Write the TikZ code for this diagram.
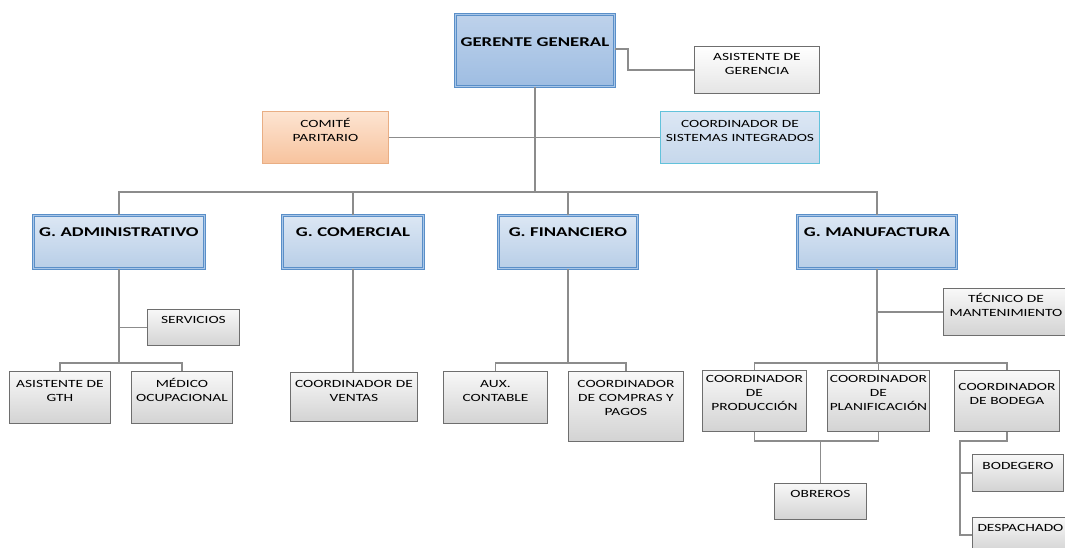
\documentclass[tikz,border=0pt]{standalone}
\usepackage{fontspec}
\setmainfont{Carlito}[FakeStretch=1.4]
\usepackage{xcolor}

\definecolor{lineagris}{HTML}{8C8C8C}
\definecolor{bordegris}{HTML}{6E6E6E}
\definecolor{grisarriba}{HTML}{F8F8F8}
\definecolor{grisabajo}{HTML}{D3D3D3}
\definecolor{bordeazul}{HTML}{5A8FC8}
\definecolor{azuldoble}{HTML}{A8C6E8}
\definecolor{azularriba}{HTML}{DCE7F4}
\definecolor{azulabajo}{HTML}{B8CEE7}
\definecolor{ggarriba}{HTML}{BED2EB}
\definecolor{ggabajo}{HTML}{9EBDE2}
\definecolor{naranjaarriba}{HTML}{FDE4D1}
\definecolor{naranjaabajo}{HTML}{F7C39E}
\definecolor{bordenaranja}{HTML}{E9AE84}
\definecolor{bordecian}{HTML}{62C2DB}

\begin{document}
\begin{tikzpicture}[x=1pt, y=-1pt,
    linea/.style={draw=lineagris, line width=1.4pt},
    caja/.style={anchor=north west, inner sep=0pt, align=center, font=\fontsize{11}{14}\selectfont},
    puesto/.style={caja, draw=bordegris, line width=0.9pt, top color=grisarriba, bottom color=grisabajo},
    gerencia/.style={caja, draw=bordeazul, double=azuldoble, double distance=1pt, line width=0.8pt,
      top color=azularriba, bottom color=azulabajo, font=\fontsize{13.4}{16}\selectfont\bfseries}]
    \useasboundingbox (0,0) rectangle (1065,547);
    \clip (0,0) rectangle (1065,547);

    \node[gerencia, top color=ggarriba, bottom color=ggabajo, text width=159pt, text height=32pt, text depth=40pt] (gg) at (455,14) {GERENTE GENERAL};
    \node[puesto, top color=white, bottom color=grisabajo!60, text width=125pt, text height=14pt, text depth=33pt] (asg) at (694,46) {ASISTENTE DE\\GERENCIA};
    \node[caja, draw=bordenaranja, line width=0.9pt, top color=naranjaarriba, bottom color=naranjaabajo, text width=126pt, text height=16pt, text depth=36pt] (cp) at (262,111) {COMITÉ\\PARITARIO};
    \node[caja, draw=bordecian, line width=0.9pt, top color=azularriba, bottom color=azulabajo!80, text width=159pt, text height=16pt, text depth=36pt] (csi) at (660,111) {COORDINADOR DE\\SISTEMAS INTEGRADOS};

    \node[gerencia, text width=171pt, text height=21pt, text depth=32pt] (adm) at (33,215) {G. ADMINISTRATIVO};
    \node[gerencia, text width=141pt, text height=21pt, text depth=32pt] (com) at (282,215) {G. COMERCIAL};
    \node[gerencia, text width=139pt, text height=21pt, text depth=32pt] (fin) at (498,215) {G. FINANCIERO};
    \node[gerencia, text width=159pt, text height=21pt, text depth=32pt] (man) at (797,215) {G. MANUFACTURA};

    \node[puesto, text width=92pt, text height=14pt, text depth=22pt] (srv) at (147,309) {SERVICIOS};
    \node[puesto, text width=101pt, text height=16pt, text depth=36pt] (gth) at (9,371) {ASISTENTE DE\\GTH};
    \node[puesto, text width=101pt, text height=16pt, text depth=36pt] (med) at (131,371) {MÉDICO\\OCUPACIONAL};
    \node[puesto, text width=127pt, text height=15pt, text depth=34pt] (cv) at (290,372) {COORDINADOR DE\\VENTAS};
    \node[puesto, text width=104pt, text height=16pt, text depth=36pt] (aux) at (443,371) {AUX.\\CONTABLE};
    \node[puesto, text width=115pt, text height=16pt, text depth=54pt] (ccp) at (568,371) {COORDINADOR\\DE COMPRAS Y\\PAGOS};

    \node[puesto, text width=125pt, text height=14pt, text depth=33pt] (tec) at (943,288) {TÉCNICO DE\\MANTENIMIENTO};
    \node[puesto, text width=104pt, text height=12pt, text depth=49pt] (cpr) at (702,370) {COORDINADOR\\DE\\PRODUCCIÓN};
    \node[puesto, text width=102pt, text height=12pt, text depth=49pt] (cpl) at (827,370) {COORDINADOR\\DE\\PLANIFICACIÓN};
    \node[puesto, text width=105pt, text height=20pt, text depth=41pt] (cbo) at (954,370) {COORDINADOR\\DE BODEGA};
    \node[puesto, text width=92pt, text height=14pt, text depth=22pt] (obr) at (774,483) {OBREROS};
    \node[puesto, text width=91pt, text height=15pt, text depth=22pt] (bdg) at (972,454) {BODEGERO};
    \node[puesto, text width=96pt, text height=14pt, text depth=21pt] (dsp) at (972,517) {DESPACHADO};

    \coordinate (bus) at (gg.south |- 0,192);
    \draw[linea] (gg.south) -- (bus);
    \draw[linea] ([yshift=-35pt]gg.north east) -- ++(13,0) |- (asg.west);
    \draw[linea] (cp.east) -- (csi.west);
    \draw[linea] (adm.north) |- (bus) -| (man.north);
    \draw[linea] (com.north) -- (com.north |- bus);
    \draw[linea] (fin.north) -- (fin.north |- bus);

    \draw[linea] (adm.south) -- ++(0,94) coordinate (admbus);
    \draw[linea] (srv.west) -- (srv.west -| adm.south);
    \draw[linea] (gth.north) |- (admbus) -| (med.north);
    \draw[linea] (com.south) -- (cv.north -| com.south);
    \draw[linea] (fin.south) -- ++(0,94) coordinate (finbus);
    \draw[linea] (aux.north) |- (finbus) -| (ccp.north);

    \draw[linea] (man.south) -- ++(0,94) coordinate (manbus);
    \draw[linea] (tec.west) -- (tec.west -| man.south);
    \draw[linea] (cpr.north) |- (manbus) -| (cbo.north);
    \draw[linea] (cpl.north) -- (cpl.north |- manbus);
    \draw[linea] (cpr.south) -- ++(0,9) -| (cpl.south);
    \draw[linea] (obr.north) -- ++(0,-43);
    \draw[linea] (cbo.south) -- ++(0,9) -| ([xshift=-12pt]dsp.west) -- (dsp.west);
    \draw[linea] (bdg.west) -- ++(-12,0);
  \end{tikzpicture}
\end{document}
